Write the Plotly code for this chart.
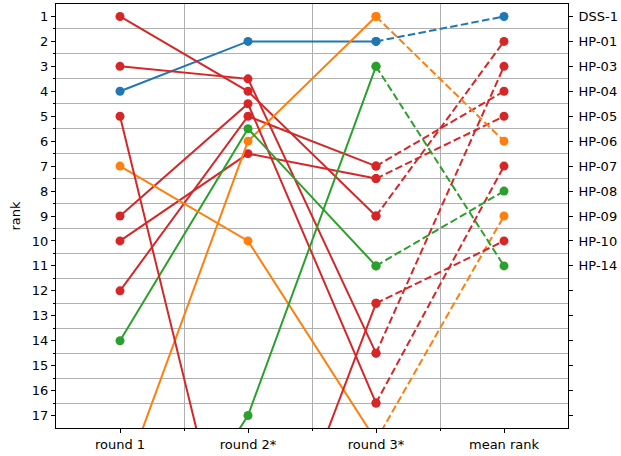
import plotly.graph_objects as go

rounds = ["round 1", "round 2*", "round 3*", "mean rank"]
teams = ["DSS-1", "HP-01", "HP-03", "HP-04", "HP-05", "HP-06", "HP-07", "HP-08", "HP-09", "HP-10", "HP-14"]
round1 = [4, 1, 3, 12, 10, 20, 9, 14, 7, 5, 25]
round2 = [2, 4, 3.5, 5, 6.5, 6, 4.5, 5.5, 10, 26, 17]
round3 = [2, 9, 14.5, 7, 7.5, 1, 16.5, 11, 18, 12.5, 3]
mean_rank = [1, 2, 3, 4, 5, 6, 7, 8, 9, 10, 11]
team_colors = ["#1f77b4", "#d62728", "#d62728", "#d62728", "#d62728", "#ff7f0e",
               "#d62728", "#2ca02c", "#ff7f0e", "#d62728", "#2ca02c"]
y_ticks = list(range(1, 18))

FONT = "DejaVu Sans"
fig = go.Figure()
xs = list(range(len(rounds)))
for i, t in enumerate(teams):
    c = team_colors[i]
    fig.add_trace(go.Scatter(
        x=xs[:3], y=[round1[i], round2[i], round3[i]], mode="lines+markers",
        line=dict(color=c, width=2), marker=dict(color=c, size=9),
        showlegend=False, name=t, cliponaxis=True))
    fig.add_trace(go.Scatter(
        x=xs[2:], y=[round3[i], mean_rank[i]], mode="lines+markers",
        line=dict(color=c, width=2, dash="7.5px,3.3px"), marker=dict(color=c, size=9),
        showlegend=False, name=t, cliponaxis=True))

# invisible trace for right axis
fig.add_trace(go.Scatter(x=[0], y=[1], yaxis="y2", mode="markers",
                         marker=dict(opacity=0), showlegend=False, hoverinfo="skip"))

right_text = [teams[mean_rank.index(v)] if v in mean_rank else "" for v in y_ticks]

axis_common = dict(showline=True, linecolor="black", linewidth=1, zeroline=False,
                   ticks="outside", ticklen=4, tickwidth=1, tickcolor="black", automargin=False,
                   tickfont=dict(family=FONT, size=13, color="black"))

fig.update_layout(
    width=621, height=456,
    margin=dict(l=56, r=53, t=4, b=28),
    paper_bgcolor="white", plot_bgcolor="white",
    xaxis=dict(range=[-0.5, 3.5], tickvals=xs, ticktext=rounds, showgrid=False,
               mirror=True,
               minor=dict(tickvals=[0.5, 1.5, 2.5], ticks="outside", ticklen=2,
                          tickcolor="black", showgrid=True, gridcolor="#b0b0b0", gridwidth=1),
               **axis_common),
    yaxis=dict(range=[17.5, 0.5], tickvals=y_ticks, showgrid=False, mirror=True,
               title=dict(text="rank", font=dict(family=FONT, size=13, color="black"), standoff=8),
               minor=dict(tickvals=[k + 0.5 for k in range(1, 17)], ticks="outside", ticklen=2,
                          tickcolor="black", showgrid=True, gridcolor="#b0b0b0", gridwidth=1),
               **axis_common),
    yaxis2=dict(range=[17.5, 0.5], tickvals=y_ticks, ticktext=right_text, overlaying="y",
                side="right", showgrid=False, ticklabelstandoff=3, **axis_common),
)

fig.write_html("out.html", config={"displayModeBar": False},
               post_script="document.body.style.margin='0px';document.body.style.overflow='hidden';")
